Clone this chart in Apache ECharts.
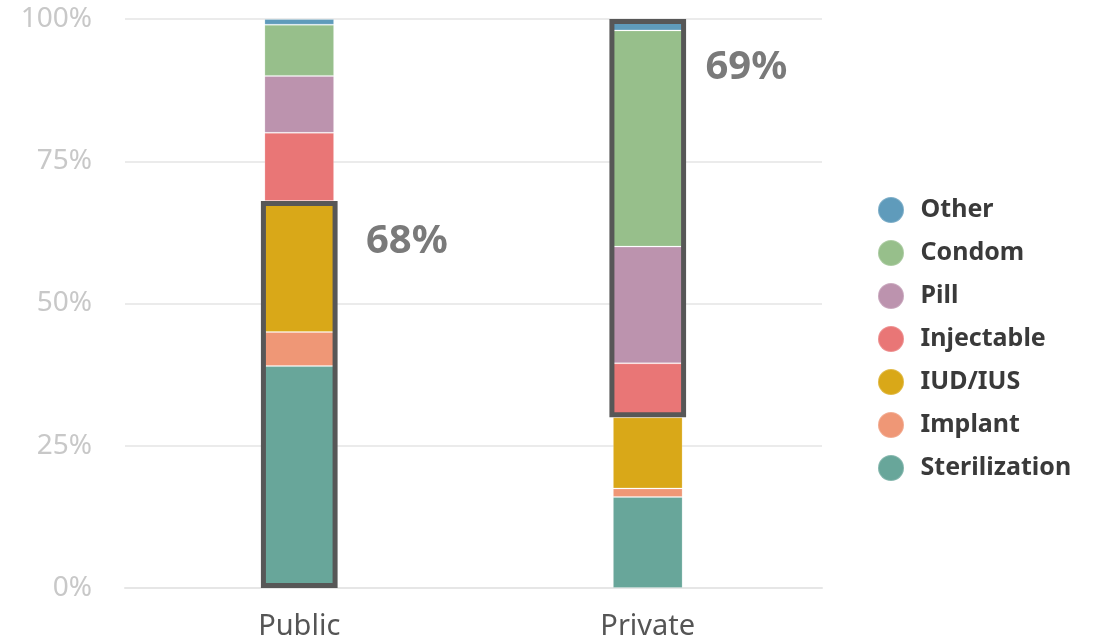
<!DOCTYPE html>
<html>
<head>
<meta charset="utf-8">
<script src="https://cdn.jsdelivr.net/npm/echarts@6/dist/echarts.min.js"></script>
<style>
  html, body { margin: 0; padding: 0; background: #fff; }
  #chart { width: 1099px; height: 640px; }
</style>
</head>
<body>
<div id="chart"></div>
<script>
  // data (percent of users)
  const sectors = ['Public', 'Private']
  const methods = ['Sterilization', 'Implant', 'IUD/IUS', 'Injectable', 'Pill', 'Condom', 'Other']
  const sterilization = [39, 16]
  const implant = [6, 1.5]
  const iud = [23, 12.5]
  const injectable = [12, 9.5]
  const pill = [10, 20.5]
  const condom = [9, 38]
  const other = [1, 2]
  // highlighted boxes: start and end of each box, with its label
  const boxStart = [0, 30]
  const boxEnd = [68, 100]
  const boxLabels = ['68%', '69%']
  const yTicks = [0, 25, 50, 75, 100]

  const colors = {
    'Sterilization': '#68a69a',
    'Implant': '#ef9776',
    'IUD/IUS': '#d9a818',
    'Injectable': '#e97676',
    'Pill': '#bc93ae',
    'Condom': '#97bf8b',
    'Other': '#5f9bbb'
  }
  const values = [sterilization, implant, iud, injectable, pill, condom, other]
  const font = 'Noto Sans'

  const stackSeries = methods.map((name, i) => ({
    name: name,
    type: 'bar',
    stack: 'share',
    barWidth: '20%',
    data: values[i],
    itemStyle: {
      color: colors[name],
      borderColor: 'rgba(255,255,255,0.2)',
      borderWidth: 1
    },
    emphasis: { disabled: true }
  }))

  const labelPos = [[105, 21], [96, 29]]

  const option = {
    animation: false,
    textStyle: { fontFamily: font },
    grid: { left: 125, right: 277, top: 19, bottom: 52, containLabel: false, outerBoundsMode: 'none' },
    legend: {
      orient: 'vertical',
      left: 872,
      top: 191,
      itemGap: 15,
      icon: 'circle',
      itemWidth: 27,
      itemHeight: 26,
      data: methods.slice().reverse(),
      textStyle: {
        fontFamily: font, fontSize: 25, fontWeight: 'bold', color: '#3a3a3a',
        lineHeight: 26, padding: [0, 0, 0, 11]
      }
    },
    xAxis: [
      {
        type: 'category',
        data: sectors,
        axisLine: { show: true, lineStyle: { color: '#e6e6e6', width: 2 } },
        axisTick: { show: false },
        axisLabel: { fontFamily: font, fontSize: 29, color: '#555', margin: 24 }
      },
      {
        type: 'category',
        data: sectors,
        show: false
      }
    ],
    yAxis: {
      type: 'value',
      min: 0,
      max: 100,
      interval: 25,
      axisLine: { show: false },
      axisTick: { show: false },
      splitLine: { lineStyle: { color: '#ebebeb', width: 2 } },
      axisLabel: {
        fontFamily: font,
        fontSize: 28,
        color: '#c8c8c8',
        margin: 33,
        formatter: v => yTicks.includes(v) ? v + '%' : ''
      }
    },
    series: stackSeries.concat([
      {
        name: 'boxBase',
        type: 'bar',
        xAxisIndex: 1,
        stack: 'box',
        barWidth: '22%',
        silent: true,
        data: boxStart,
        itemStyle: { color: 'transparent' }
      },
      {
        name: 'box',
        type: 'bar',
        xAxisIndex: 1,
        stack: 'box',
        barWidth: '22%',
        silent: true,
        data: boxEnd.map((v, i) => ({
          value: v - boxStart[i],
          label: {
            show: true,
            formatter: boxLabels[i],
            position: labelPos[i],
            fontFamily: font,
            fontSize: 40,
            fontWeight: 'bold',
            color: '#7a7a7a'
          }
        })),
        itemStyle: { color: 'transparent', borderColor: '#575757', borderWidth: 5 }
      }
    ])
  }

  const myChart = echarts.init(document.getElementById('chart'))
  myChart.setOption(option)
</script>
</body>
</html>
